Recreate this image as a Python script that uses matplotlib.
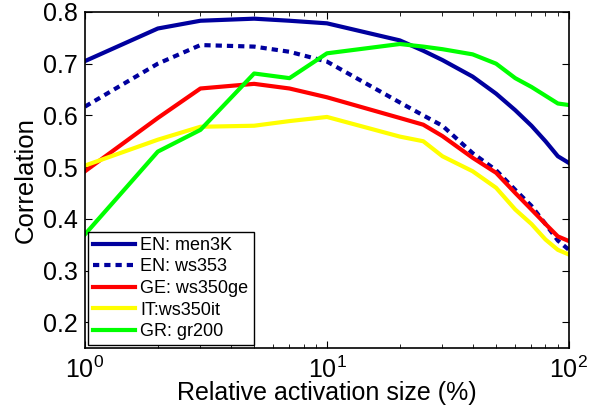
import matplotlib
matplotlib.use('Agg')
import matplotlib.pyplot as plt

plt.rcParams['font.family'] = ['Liberation Sans', 'DejaVu Sans']
plt.rcParams['mathtext.fontset'] = 'custom'
plt.rcParams['mathtext.rm'] = 'Liberation Sans'
plt.rcParams['mathtext.it'] = 'Liberation Sans:italic'

# relative activation size (%)
sizes = [1, 2, 3, 5, 7, 10, 20, 25, 30, 40, 50, 60, 70, 80, 90, 100]

en_men3k = [0.705, 0.768, 0.783, 0.787, 0.783, 0.778, 0.745, 0.725, 0.707, 0.675,
            0.642, 0.610, 0.580, 0.550, 0.521, 0.508]
en_ws353 = [0.617, 0.700, 0.736, 0.733, 0.723, 0.704, 0.625, 0.600, 0.580, 0.527,
            0.494, 0.456, 0.425, 0.390, 0.358, 0.340]
ge_ws350 = [0.492, 0.595, 0.652, 0.661, 0.652, 0.635, 0.595, 0.582, 0.560, 0.518,
            0.489, 0.450, 0.418, 0.390, 0.366, 0.357]
it_ws350 = [0.503, 0.553, 0.578, 0.580, 0.589, 0.597, 0.559, 0.550, 0.521, 0.492,
            0.460, 0.418, 0.390, 0.360, 0.340, 0.331]
gr_gr200 = [0.370, 0.530, 0.572, 0.681, 0.672, 0.720, 0.738, 0.733, 0.728, 0.718,
            0.700, 0.672, 0.655, 0.638, 0.623, 0.620]

labels = ['EN: men3K', 'EN: ws353', 'GE: ws350ge', 'IT:ws350it', 'GR: gr200']

fig = plt.figure(figsize=(5.96, 4.12), dpi=100)
ax = fig.add_axes([0.1426, 0.155, 0.812, 0.816])

ax.plot(sizes, en_men3k, color='#00009E', lw=3, label=labels[0])
ax.plot(sizes, en_ws353, color='#00009E', lw=3, ls=(0, (1.5, 1.2)), label=labels[1])
ax.plot(sizes, ge_ws350, color='#FF0000', lw=3, label=labels[2])
ax.plot(sizes, it_ws350, color='#FFFF00', lw=3, label=labels[3])
ax.plot(sizes, gr_gr200, color='#00FF00', lw=3, label=labels[4])

ax.set_xscale('log')
ax.set_xlim(1, 100)
ax.set_ylim(0.15, 0.8)
ax.set_yticks([0.2, 0.3, 0.4, 0.5, 0.6, 0.7, 0.8])
ax.set_yticklabels(['0.2', '0.3', '0.4', '0.5', '0.6', '0.7', '0.8'])

ax.tick_params(which='both', direction='in', top=True, right=True, labelsize=18)
ax.tick_params(which='major', length=5, width=0.8)
ax.tick_params(which='minor', length=3, width=0.6)
ax.tick_params(axis='x', pad=6)
ax.tick_params(axis='y', pad=5)
for s in ax.spines.values():
    s.set_linewidth(1.2)

ax.set_xlabel('Relative activation size (%)', fontsize=18, labelpad=-1)
ax.set_ylabel('Correlation', fontsize=18.5, labelpad=4)

leg = ax.legend(loc='lower left', fontsize=13, handlelength=2.3, handletextpad=0.3,
                borderaxespad=0.15, borderpad=0.3, labelspacing=0.25, fancybox=False,
                framealpha=1)
leg.get_frame().set_edgecolor('black')
leg.get_frame().set_linewidth(1.0)

fig.savefig('out.png', dpi=100)
